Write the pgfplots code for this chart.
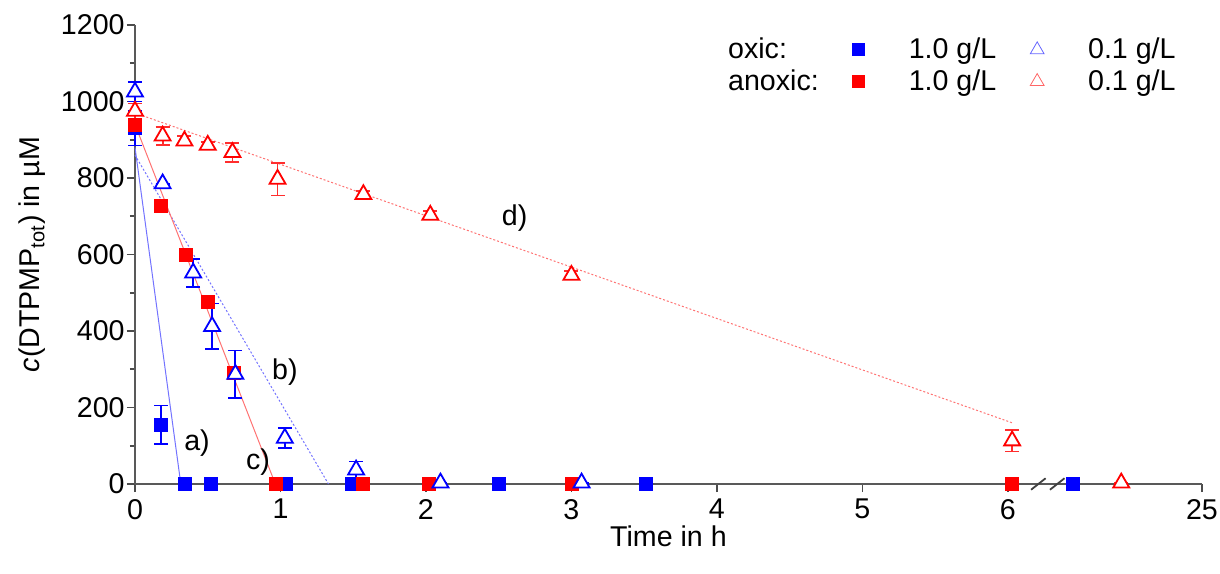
\documentclass[border=0pt]{standalone}
\usepackage{fontspec}
\setmainfont{Liberation Sans}
\usepackage{pgfplots}
\pgfplotsset{compat=1.18}
\definecolor{cblue}{RGB}{0,0,255}
\definecolor{cred}{RGB}{255,0,0}
\definecolor{credbar}{RGB}{255,45,45}

\begin{document}
\begin{tikzpicture}[font=\fontsize{14.3}{17}\selectfont]
\begin{axis}[
  scale only axis, width=533.5pt, height=229.5pt,
  xmin=0, xmax=7.335, ymin=0, ymax=1200,
  axis lines*=left,
  axis line style={-, draw=black!65, line width=1.1pt},
  clip=false,
  xtick={0,1,2,3,4,5,6,7.335}, xticklabels={0,1,2,3,4,5,6,25},
  ytick={0,200,...,1200}, minor ytick={100,300,...,1100},
  tick align=outside, major tick length=4pt, minor tick length=2.5pt,
  tick style={black!70, line width=0.8pt},
  /pgf/number format/assume math mode=true,
  /pgf/number format/1000 sep={},
  yticklabel style={inner sep=1pt},
  xlabel={Time in h},
  ylabel={{\itshape c}(DTPMP\textsubscript{tot}) in µM},
  xlabel shift=-3.5pt, ylabel shift=3pt,
  legend columns=3, legend cell align=left,
  legend style={at={(rel axis cs:0.985,0.99)}, anchor=north east, draw=none, fill=none,
    /tikz/every even column/.append style={column sep=15pt},
    /tikz/every odd column/.append style={column sep=20pt}},
]
% legend
\addlegendimage{empty legend}\addlegendentry{oxic:}
\addlegendimage{only marks, mark=square*, cblue, mark size=3pt}\addlegendentry{1.0 g/L}
\addlegendimage{only marks, mark=triangle, cblue!60, mark size=4pt}\addlegendentry{0.1 g/L}
\addlegendimage{empty legend}\addlegendentry{anoxic:}
\addlegendimage{only marks, mark=square*, cred, mark size=3pt}\addlegendentry{1.0 g/L}
\addlegendimage{only marks, mark=triangle, cred!60, mark size=4pt}\addlegendentry{0.1 g/L}

% fit lines
\addplot[forget plot, cblue!55, line width=0.5pt] coordinates {(0,880) (0.315,0)};
\addplot[forget plot, cblue!55, line width=0.5pt, dash pattern=on 1pt off 1pt] coordinates {(0,860) (1.33,0)};
\addplot[forget plot, cred!55, line width=0.5pt] coordinates {(0,940) (0.965,0)};
\addplot[forget plot, cred!55, line width=0.5pt, dash pattern=on 1pt off 1pt] coordinates {(0,970) (6.03,160)};

% oxic 1.0 g/L
\addplot[forget plot, only marks, mark=square*, color=cblue, mark size=3.25pt] table {
x y
0 930
0.18 155
0.34 0
0.52 0
1.04 0
1.49 0
2.50 0
3.51 0
6.45 0
};
\addplot[forget plot, only marks, mark=square*, color=cblue, mark size=3.25pt,
  error bars/.cd, y dir=both, y explicit,
  error bar style={color=cblue, line width=0.9pt},
  error mark options={color=cblue, rotate=90, mark size=3.5pt, line width=0.9pt}] table[y error=e] {
x y e
0 930 45
0.18 155 50
};

% anoxic 1.0 g/L
\addplot[forget plot, only marks, mark=square*, color=cred, mark size=3.25pt] table {
x y
0 940
0.18 727
0.35 600
0.50 475
0.68 290
0.97 0
1.57 0
2.02 0
3.00 0
6.03 0
};

% oxic 0.1 g/L
\addplot[forget plot, only marks, mark=triangle*, color=cblue, mark size=4.6pt,
  mark options={draw=cblue, fill=white, line width=0.9pt},
  error bars/.cd, y dir=both, y explicit,
  error bar style={color=cblue, line width=0.9pt},
  error mark options={color=cblue, rotate=90, mark size=3.5pt, line width=0.9pt}] table[y error=e] {
x y e
0 1025 25
0.19 785 0
0.40 552 37
0.53 412 60
0.69 287 62
1.03 120 26
1.52 37 22
2.10 3 0
3.07 3 0
};

% anoxic 0.1 g/L
\addplot[forget plot, only marks, mark=triangle*, color=cred, mark size=4.6pt,
  mark options={draw=cred, fill=white, line width=0.9pt},
  error bars/.cd, y dir=both, y explicit,
  error bar style={color=credbar, line width=0.9pt},
  error mark options={color=credbar, rotate=90, mark size=3.5pt, line width=0.9pt}] table[y error=e] {
x y e
0 975 20
0.19 910 23
0.34 897 12
0.50 886 8
0.67 867 25
0.98 797 43
1.57 757 10
2.03 703 10
3.00 546 10
6.03 113 28
6.78 3 0
};

% labels
\node at (axis cs:0.426,107) {a)};
\node at (axis cs:1.03,293) {b)};
\node at (axis cs:0.845,57) {c)};
\node at (axis cs:2.61,695) {d)};

% axis break
\draw[black!75, line width=0.9pt] (axis cs:6.16,-15) -- (axis cs:6.26,15);
\draw[black!75, line width=0.9pt] (axis cs:6.29,-15) -- (axis cs:6.39,15);
\end{axis}
\pgfresetboundingbox
\path[use as bounding box] (-67.5pt,-44.5pt) rectangle (542.5pt,242pt);
\end{tikzpicture}
\end{document}
